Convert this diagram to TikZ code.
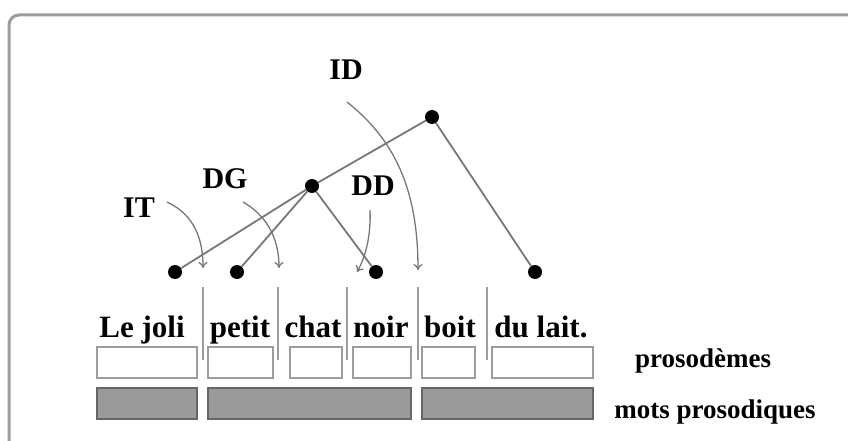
\documentclass[tikz,border=0pt]{standalone}
\usepackage{fontspec}
\setmainfont{Liberation Serif}
\usepackage{xcolor}
\usetikzlibrary{arrows.meta}
\definecolor{framegray}{HTML}{9C9C9C}
\definecolor{edgegray}{HTML}{777777}
\definecolor{boxfill}{HTML}{9A9A9A}
\definecolor{boxline}{HTML}{666666}

\begin{document}
\begin{tikzpicture}[x=1pt, y=-1pt,
  dot/.style={circle, fill=black, inner sep=0pt, minimum size=14pt},
  edge/.style={draw=edgegray, line width=1.8pt},
  arr/.style={-{To[length=6pt, width=9pt]}, draw=edgegray, line width=1.3pt},
  sep/.style={draw=framegray, line width=1.6pt},
  lbl/.style={font=\fontsize{30}{32}\selectfont\bfseries, anchor=base, inner sep=0pt},
  word/.style={font=\fontsize{31}{33}\selectfont\bfseries, anchor=base, inner sep=0pt},
  side/.style={font=\fontsize{27}{29}\selectfont\bfseries, anchor=base, inner sep=0pt},
  pbox/.style={rectangle, draw=framegray, fill=white, line width=1.4pt, minimum height=31pt, inner sep=0pt},
  mbox/.style={rectangle, draw=boxline, fill=boxfill, line width=1.4pt, minimum height=31pt, inner sep=0pt}
]
\useasboundingbox (0,0) rectangle (848,441);
\draw[framegray, line width=3pt, rounded corners=10pt] (880,15) -- (9,15) -- (9,470);

% tree
\node[dot] (d1) at (175,272) {};
\node[dot] (d2) at (237,272) {};
\node[dot] (d3) at (376,272) {};
\node[dot] (d4) at (535,272) {};
\node[dot] (n1) at (312,186) {};
\node[dot] (n0) at (432,117) {};
\draw[edge] (n0) -- (n1);
\draw[edge] (n0) -- (d4);
\draw[edge] (n1) -- (d1);
\draw[edge] (n1) -- (d2);
\draw[edge] (n1) -- (d3);

% labels and arrows
\node[lbl] (it) at (139,217) {IT};
\node[lbl] (dg) at (225,188) {DG};
\node[lbl] (dd) at (373,195) {DD};
\node[lbl] (id) at (346,80) {ID};
\coordinate (it0) at (167,202);
\coordinate (it1) at (203,268);
\coordinate (dg0) at (243,202);
\coordinate (dg1) at (279,268);
\coordinate (dd0) at (370,210);
\coordinate (dd1) at (357,272);
\coordinate (id0) at (347,102);
\coordinate (id1) at (418,270);
\draw[arr] (it0) .. controls (195,215) and (203,240) .. (it1);
\draw[arr] (dg0) .. controls (264,214) and (279,235) .. (dg1);
\draw[arr] (dd0) .. controls (371,235) and (366,256) .. (dd1);
\draw[arr] (id0) .. controls (395,140) and (418,190) .. (id1);

% words
\foreach \x in {203,278,347,418,487}
  \draw[sep] (\x,287) -- (\x,360);
\node[word] (w1) at (142,337) {Le joli};
\node[word] (w2) at (240,337) {petit};
\node[word] (w3) at (313,337) {chat};
\node[word] (w4) at (381,337) {noir};
\node[word] (w5) at (450,337) {boit};
\node[word] (w6) at (541,337) {du lait.};

% prosodemes
\node[pbox, minimum width=100pt] (p1) at (147,362.5) {};
\node[pbox, minimum width=65pt]  (p2) at (240.5,362.5) {};
\node[pbox, minimum width=52pt]  (p3) at (316,362.5) {};
\node[pbox, minimum width=58pt]  (p4) at (382,362.5) {};
\node[pbox, minimum width=53pt]  (p5) at (448.5,362.5) {};
\node[pbox, minimum width=101pt] (p6) at (542.5,362.5) {};

% mots prosodiques
\node[mbox, minimum width=100pt] (m1) at (147,403.5) {};
\node[mbox, minimum width=203pt] (m2) at (309.5,403.5) {};
\node[mbox, minimum width=171pt] (m3) at (507.5,403.5) {};

\node[side] (ps) at (703,367) {prosodèmes};
\node[side] (mp) at (715,418) {mots prosodiques};
\end{tikzpicture}
\end{document}
